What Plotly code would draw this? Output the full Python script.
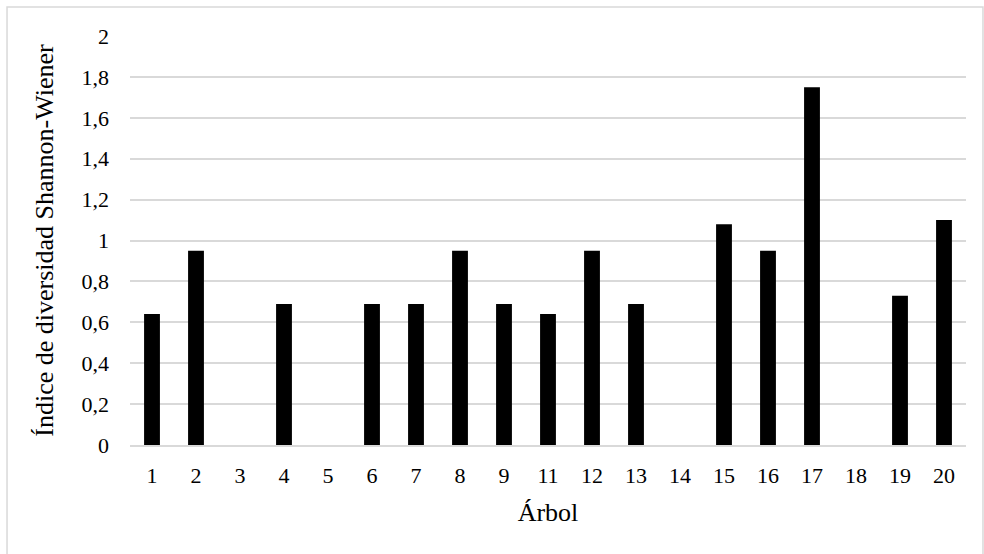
import plotly.graph_objects as go

arboles = ["1", "2", "3", "4", "5", "6", "7", "8", "9", "11", "12", "13", "14", "15", "16", "17", "18", "19", "20"]
shannon = [0.64, 0.95, 0, 0.69, 0, 0.69, 0.69, 0.95, 0.69, 0.64, 0.95, 0.69, 0, 1.08, 0.95, 1.75, 0, 0.73, 1.10]
y_ticks = [0, 0.2, 0.4, 0.6, 0.8, 1.0, 1.2, 1.4, 1.6, 1.8, 2.0]
y_tick_text = ["0", "0,2", "0,4", "0,6", "0,8", "1", "1,2", "1,4", "1,6", "1,8", "2"]

FONT = "'Liberation Serif', 'Times New Roman', Tinos, 'DejaVu Serif', serif"

fig = go.Figure(
    go.Bar(
        x=arboles,
        y=shannon,
        marker=dict(color="#000000", line=dict(width=0)),
        width=0.36,
    )
)

fig.update_layout(
    width=984,
    height=554,
    margin=dict(l=130, r=18, t=36, b=109),
    paper_bgcolor="white",
    plot_bgcolor="white",
    font=dict(family=FONT, size=22, color="#000000"),
    showlegend=False,
    xaxis=dict(
        type="category",
        title=dict(text="Árbol", font=dict(family=FONT, size=26), standoff=16),
        showgrid=False,
        showline=True,
        linecolor="#d9d9d9",
        linewidth=1.5,
        ticks="",
        ticklabelstandoff=10,
        tickfont=dict(family=FONT, size=22),
        zeroline=False,
    ),
    yaxis=dict(
        range=[0, 2],
        tickvals=y_ticks,
        ticktext=y_tick_text,
        showgrid=True,
        gridcolor="#d9d9d9",
        gridwidth=1.5,
        zeroline=False,
        showline=False,
        ticks="",
        ticklabelstandoff=20,
        tickfont=dict(family=FONT, size=22),
        title=dict(text="Índice de diversidad Shannon-Wiener", font=dict(family=FONT, size=26), standoff=20),
    ),
    shapes=[
        dict(
            type="rect",
            xref="paper",
            yref="paper",
            x0=-0.1471,
            x1=1.0203,
            y0=-0.30,
            y1=1.0709,
            line=dict(color="#d9d9d9", width=1.5),
            fillcolor="rgba(0,0,0,0)",
            layer="below",
        )
    ],
)

fig.write_html("out.html")
